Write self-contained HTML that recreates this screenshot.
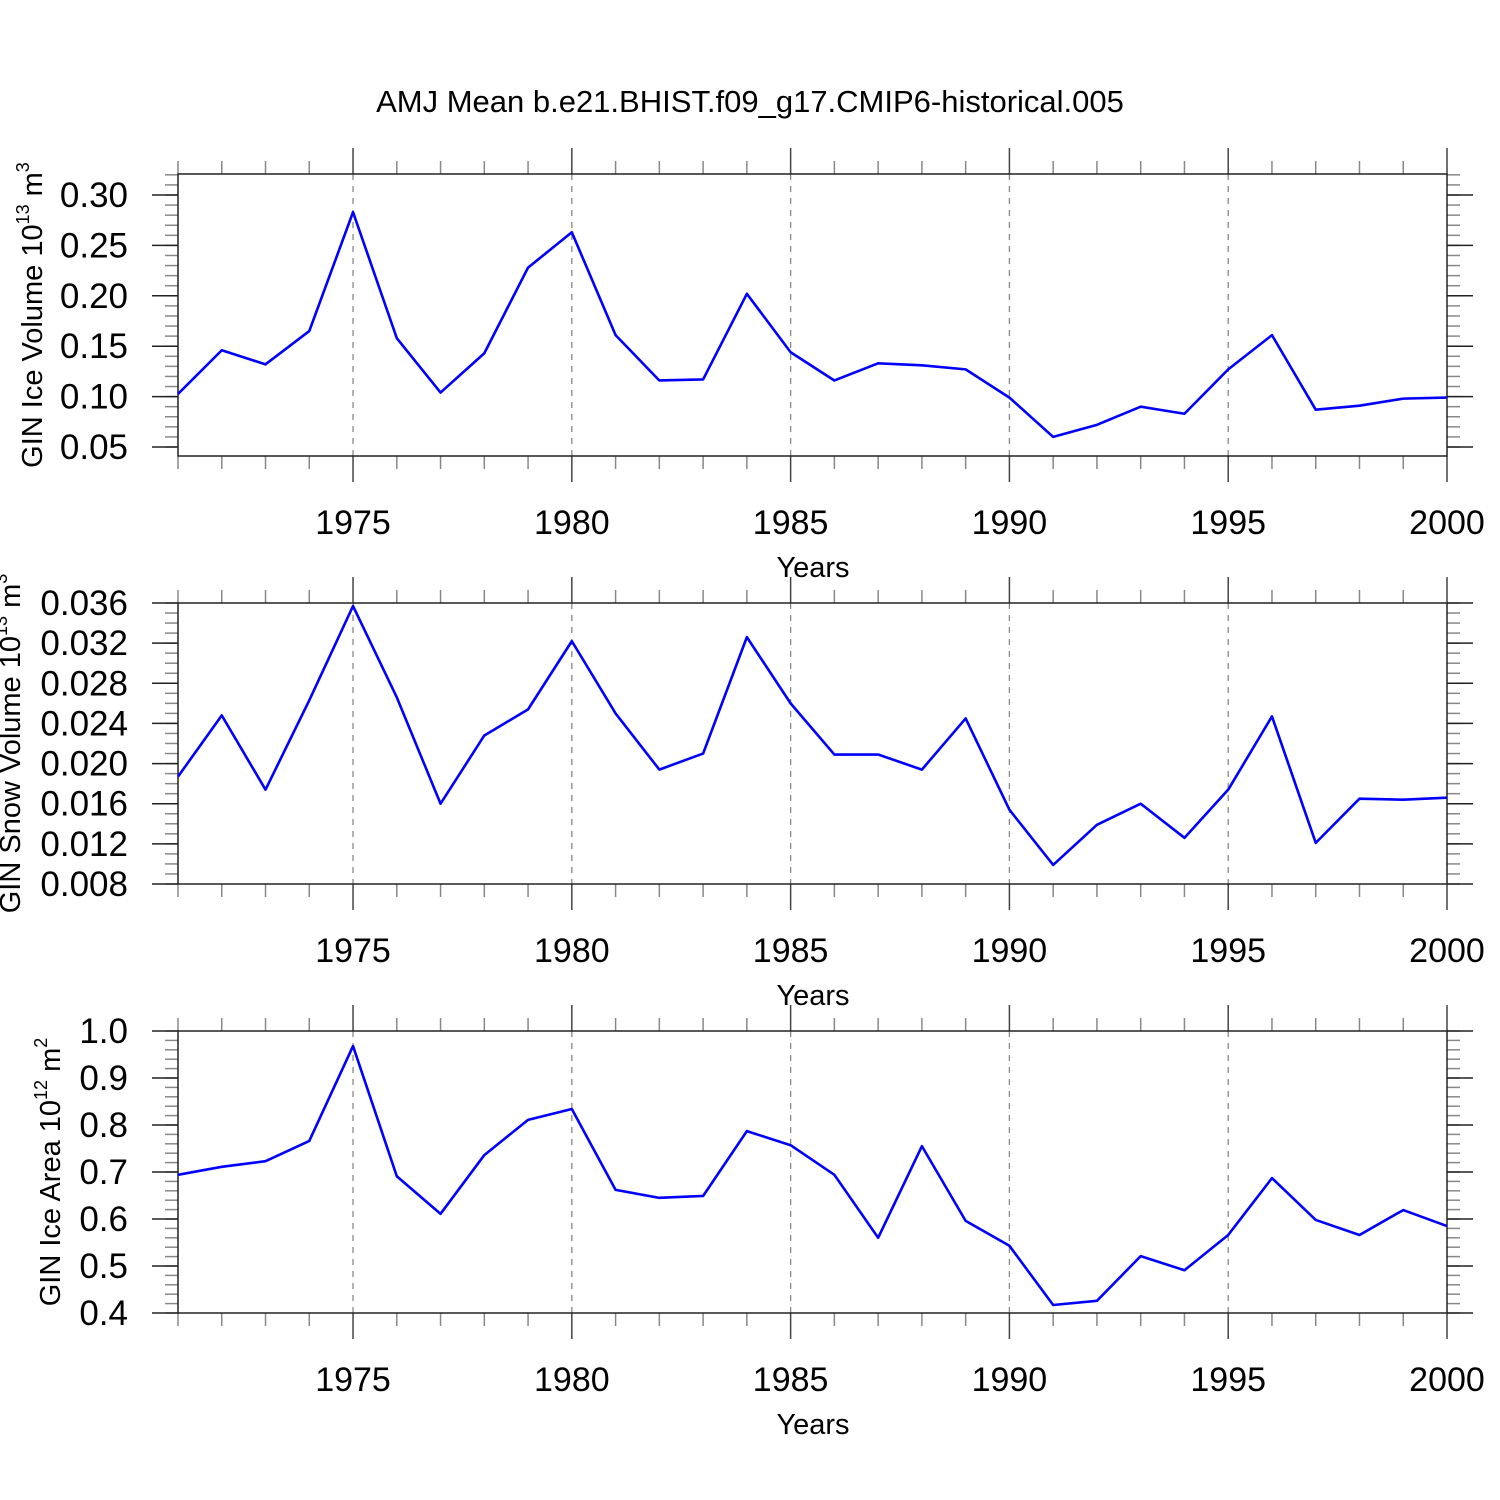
<!DOCTYPE html>
<html><head><meta charset="utf-8"><style>
html,body{margin:0;padding:0;background:#fff;}
svg{display:block;font-family:"Liberation Sans",sans-serif;}
</style></head><body>
<svg id="chart" width="1500" height="1500" viewBox="0 0 1500 1500" xmlns="http://www.w3.org/2000/svg">
<rect width="1500" height="1500" fill="#fff"/>
<text x="750" y="112" font-size="31" text-anchor="middle">AMJ Mean b.e21.BHIST.f09_g17.CMIP6-historical.005</text>
</svg>
<script>
const years = [1971,1972,1973,1974,1975,1976,1977,1978,1979,1980,1981,1982,1983,1984,1985,1986,1987,1988,1989,1990,1991,1992,1993,1994,1995,1996,1997,1998,1999,2000];
const xTickLabels = [1975,1980,1985,1990,1995,2000];
const iceVolume = [0.1026,0.146,0.132,0.165,0.283,0.158,0.104,0.143,0.228,0.263,0.161,0.116,0.117,0.202,0.144,0.116,0.133,0.131,0.127,0.099,0.060,0.072,0.090,0.083,0.127,0.161,0.087,0.091,0.098,0.099];
const snowVolume = [0.0187,0.0248,0.0174,0.0263,0.0357,0.0266,0.0160,0.0228,0.0254,0.0322,0.0250,0.0194,0.0210,0.0326,0.0260,0.0209,0.0209,0.0194,0.0245,0.0154,0.0099,0.0139,0.0160,0.0126,0.0174,0.0247,0.0121,0.0165,0.0164,0.0166];
const iceArea = [0.694,0.711,0.723,0.766,0.968,0.691,0.611,0.736,0.811,0.834,0.662,0.645,0.649,0.787,0.757,0.694,0.560,0.755,0.596,0.543,0.417,0.426,0.521,0.491,0.566,0.687,0.598,0.566,0.619,0.585];
const yTicks1 = ["0.05","0.10","0.15","0.20","0.25","0.30"];
const yTicks2 = ["0.008","0.012","0.016","0.020","0.024","0.028","0.032","0.036"];
const yTicks3 = ["0.4","0.5","0.6","0.7","0.8","0.9","1.0"];

const NS="http://www.w3.org/2000/svg";
const svg=document.getElementById('chart');
function mk(tag,attrs,parent){const e=document.createElementNS(NS,tag);for(const k in attrs)e.setAttribute(k,attrs[k]);(parent||svg).appendChild(e);return e;}

const X0=178,X1=1447;
function xs(yr){return X0+(yr-1971)/(2000-1971)*(X1-X0);}

function panel(cfg){
  const g=mk('g',{});
  
  
  const T=cfg.top,B=cfg.bot;
  const ys=v=>cfg.p0+(v-cfg.v0)/(cfg.v1-cfg.v0)*(cfg.p1-cfg.p0);
  xTickLabels.forEach(yr=>{
    if(yr<2000){const l=mk('line',{x1:xs(yr),x2:xs(yr),y1:T,y2:B,stroke:'#888','stroke-width':1.3,'stroke-dasharray':'6,6'},g);
    }
  });
  years.forEach(yr=>{
    const major=yr%5===0;const len=major?26:13;const x=xs(yr);
    mk('line',{x1:x,x2:x,y1:T-len,y2:T,stroke:major?'#444':'#888','stroke-width':1.5},g);
    mk('line',{x1:x,x2:x,y1:B,y2:B+len,stroke:major?'#444':'#888','stroke-width':1.5},g);
  });
  xTickLabels.forEach(yr=>{
    const t=mk('text',{x:xs(yr),y:B+78,'font-size':34,'text-anchor':'middle'},g);t.textContent=yr;
    
  });
  const xt=mk('text',{x:813,y:B+121,'font-size':29,'text-anchor':'middle'},g);xt.textContent='Years';
  
  const vTop=cfg.v0+(T-cfg.p0)/(cfg.p1-cfg.p0)*(cfg.v1-cfg.v0);
  const vBot=cfg.v0+(B-cfg.p0)/(cfg.p1-cfg.p0)*(cfg.v1-cfg.v0);
  const lo=Math.min(vTop,vBot),hi=Math.max(vTop,vBot);
  for(let k=Math.ceil(lo/cfg.minor-1e-6);k*cfg.minor<=hi+1e-9;k++){
    const y=ys(k*cfg.minor);
    mk('line',{x1:X0-13,x2:X0,y1:y,y2:y,stroke:'#888','stroke-width':1.5},g);
    mk('line',{x1:X1,x2:X1+13,y1:y,y2:y,stroke:'#888','stroke-width':1.5},g);
  }
  cfg.ticks.forEach(s=>{
    const y=ys(parseFloat(s));
    mk('line',{x1:X0-26,x2:X0,y1:y,y2:y,stroke:'#222','stroke-width':1.5},g);
    mk('line',{x1:X1,x2:X1+26,y1:y,y2:y,stroke:'#222','stroke-width':1.5},g);
    const t=mk('text',{x:128,y:y+12,'font-size':35,'text-anchor':'end'},g);t.textContent=s;
    
  });
  mk('rect',{x:X0,y:T,width:X1-X0,height:B-T,fill:'none',stroke:'#222','stroke-width':1.5},g);
  const yt=mk('text',{x:0,y:0,'font-size':29,'text-anchor':'middle',transform:`translate(${cfg.ytx},${(T+B)/2}) rotate(-90)`},g);
  
  yt.innerHTML=cfg.ytitle+' 10<tspan font-size="18" dy="-13">'+cfg.exp+'</tspan><tspan dy="13"> m</tspan><tspan font-size="18" dy="-13">'+cfg.unitExp+'</tspan>';
  const pts=cfg.data.map((v,i)=>xs(years[i])+','+ys(v)).join(' ');
  const pl=mk('polyline',{points:pts,fill:'none',stroke:'#0000ff','stroke-width':2.6,'stroke-linejoin':'round'},g);
  
}
panel({name:'ice-volume-panel',top:174,bot:456,v0:0.05,p0:447,v1:0.30,p1:195,minor:0.01,ticks:yTicks1,data:iceVolume,ytitle:'GIN Ice Volume',exp:'13',unitExp:'3',ytx:42});
panel({name:'snow-volume-panel',top:603,bot:884,v0:0.008,p0:884,v1:0.036,p1:603,minor:0.001,ticks:yTicks2,data:snowVolume,ytitle:'GIN Snow Volume',exp:'13',unitExp:'3',ytx:20});
panel({name:'ice-area-panel',top:1031,bot:1313,v0:0.4,p0:1313,v1:1.0,p1:1031,minor:0.02,ticks:yTicks3,data:iceArea,ytitle:'GIN Ice Area',exp:'12',unitExp:'2',ytx:60});
</script>
</body></html>
